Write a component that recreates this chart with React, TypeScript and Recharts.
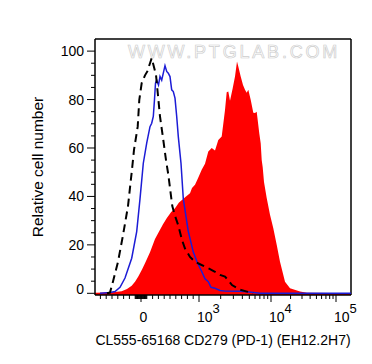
import React from 'react';
import { ComposedChart, Area, Line, XAxis, YAxis, ReferenceLine, Label } from 'recharts';

const FONT = '"Liberation Sans", Arial, Helvetica, sans-serif';

// Display channel (0..256 across the biexponential axis) and relative cell counts
const sampleChannel = [0, 13, 20, 26.7, 32, 36.7, 40, 43.3, 47, 50, 55, 60, 65, 68, 71.7, 76, 80, 84, 87.3, 91, 95, 97, 100, 103, 106.7, 110, 113.3, 116.7, 120, 123.3, 126.7, 128.3, 130, 131.7, 133.3, 135, 137.7, 140, 142, 143.3, 145.7, 148, 150, 151.7, 153.3, 155.7, 158.3, 160, 161.7, 164.3, 165.7, 166.7, 167.7, 169, 171.7, 175, 178.3, 181.7, 185, 190, 195, 205, 212, 256];
const sampleCount = [0.2, 0.3, 0.5, 0.9, 1.8, 3.1, 4.8, 6.9, 9.8, 12.4, 16.9, 22.4, 26.2, 28.5, 31, 33.5, 35.1, 37.5, 38.6, 40, 41.3, 43.5, 44.8, 47.5, 51, 53.5, 58.5, 60, 59, 63.3, 64.7, 70, 75.7, 83, 83.3, 79.5, 84.7, 89.5, 95.7, 93.6, 89.5, 86, 84, 82.8, 84, 79.9, 74.5, 74.4, 75, 66, 62, 55, 52, 46, 39.3, 32.4, 26.9, 20, 13, 4.8, 2.1, 0.7, 0.2, 0];

const isotypeChannel = [5, 15, 20, 25, 30, 36.7, 41.7, 45, 48.3, 51.7, 55, 56.7, 58.3, 59.5, 60.5, 61.7, 63.5, 65, 66.7, 68.3, 70, 71.7, 73.3, 75, 76.7, 78.3, 80, 81.7, 83.3, 86, 88.3, 93.3, 98.3, 102, 106.7, 110, 113.3, 116, 120, 125, 130, 145, 152, 165, 256];
const isotypeCount = [0, 0.3, 0.7, 2.5, 6.3, 14.5, 25.5, 39, 53.7, 62, 68.8, 70.2, 73, 80, 86.8, 88, 86, 89.5, 88, 90.9, 94, 91.6, 90.9, 89.5, 84, 83.3, 80.6, 73, 64.7, 53.7, 39, 25.5, 17, 13, 9, 6, 4.8, 2.5, 2.1, 1.2, 0.9, 0.8, 0.6, 0, 0];

const unstainedChannel = [12, 15, 18, 23, 28, 33, 37.3, 39, 42.7, 44.3, 46.7, 50, 52.3, 55, 56.7, 58, 61, 65, 68.3, 71, 73.3, 77.3, 80, 83.3, 87, 90, 95, 100, 105, 110, 115, 120, 125, 130, 134, 137, 145, 152, 158];
const unstainedCount = [0, 0.3, 4.9, 13, 24, 36, 52.3, 59.2, 68.8, 79.9, 86.8, 90, 91.6, 95, 97.1, 95, 90.2, 73, 63.3, 55, 49, 36, 32, 28, 22, 18.5, 15, 13, 12, 11, 10, 8.9, 7.6, 6.9, 5, 3.4, 1.5, 0.7, 0];

// Axis tick values (fluorescence intensity)
const xMajorValues = [0, 1000, 10000, 100000];
const xMajorExponents = ['', '3', '4', '5'];
const xMinorValues = [
  -700, -600, -500, -400, -300, -200, -100, -90, -80, -70, -60, -50, -40, -30, -20, -10,
  10, 20, 30, 40, 50, 60, 70, 80, 90, 100, 200, 300, 400, 500, 600, 700, 800, 900,
  2000, 3000, 4000, 5000, 6000, 7000, 8000, 9000,
  20000, 30000, 40000, 50000, 60000, 70000, 80000, 90000,
];
const yTickValues = [0, 5, 10, 15, 20, 25, 30, 35, 40, 45, 50, 55, 60, 65, 70, 75, 80, 85, 90, 95, 100];
const yMajorValues = [0, 20, 40, 60, 80, 100];

const xTitle = 'CL555-65168 CD279 (PD-1) (EH12.2H7)';
const yTitle = 'Relative cell number';
const watermark = 'WWW.PTGLAB.COM';

// biexponential-like display transform: value -> display channel
const ZERO_CH = 46;
const DECADE_CH: Record<number, number> = { 3: 104, 4: 176, 5: 241 };
function toChannel(v: number): number {
  if (Math.abs(v) <= 1000) return ZERO_CH + (v / 1000) * (DECADE_CH[3] - ZERO_CH);
  const l = Math.log10(v);
  if (l <= 4) return DECADE_CH[3] + (l - 3) * (DECADE_CH[4] - DECADE_CH[3]);
  return DECADE_CH[4] + (l - 4) * (DECADE_CH[5] - DECADE_CH[4]);
}

const X_MAX = 256;
const Y_MIN = -0.7;
const Y_MAX = 105;

const zip = (cs: number[], vs: number[]) => cs.map((c, i) => ({ ch: c, v: vs[i] }));
const sampleData = zip(sampleChannel, sampleCount);
const isotypeData = zip(isotypeChannel, isotypeCount);
const unstainedData = zip(unstainedChannel, unstainedCount);

type TickInfo = { major: boolean; exp: string };
const xTickInfo = new Map<number, TickInfo>();
xMajorValues.forEach((v, i) => xTickInfo.set(toChannel(v), { major: true, exp: xMajorExponents[i] }));
xMinorValues.forEach((v) => {
  const c = toChannel(v);
  if (c >= 0 && c <= X_MAX) xTickInfo.set(c, { major: false, exp: '' });
});
const xTicks = Array.from(xTickInfo.keys()).sort((a, b) => a - b);

const XTick = (props: any) => {
  const { x, y, payload } = props;
  const info = xTickInfo.get(payload.value);
  if (!info) return null;
  const len = info.major ? 7 : 4;
  return (
    <g>
      <line x1={x} x2={x} y1={y} y2={y + len} stroke="#000" strokeWidth={1} />
      {info.major && info.exp === '' && (
        <text x={x + 2.5} y={y + 27} textAnchor="middle" fontSize={14} fontFamily={FONT} fill="#000">0</text>
      )}
      {info.major && info.exp !== '' && (
        <text x={x - 2} y={y + 27} textAnchor="start" fontSize={14} fontFamily={FONT} fill="#000">
          10<tspan dy={-9} fontSize={13}>{info.exp}</tspan>
        </text>
      )}
    </g>
  );
};

const YTick = (props: any) => {
  const { x, y, payload } = props;
  const v = payload.value as number;
  const major = yMajorValues.includes(v);
  const len = major ? 8 : 4;
  return (
    <g>
      <line x1={x - len} x2={x} y1={y} y2={y} stroke="#000" strokeWidth={1} />
      {major && (
        <text x={x - 11} y={y + (v === 0 ? -4 : 0)} dy="0.36em" textAnchor="end" fontSize={14} fontFamily={FONT} fill="#000">
          {v}
        </text>
      )}
    </g>
  );
};

export default function App() {
  return (
    <div style={{ width: 364, height: 356 }}>
      <ComposedChart width={364} height={356} margin={{ top: 31, right: 21, bottom: 0, left: 0 }}>
        <XAxis
          type="number"
          dataKey="ch"
          domain={[0, X_MAX]}
          ticks={xTicks}
          interval={0}
          tickSize={0}
          tickMargin={0}
          tickLine={false}
          tick={<XTick />}
          axisLine={{ stroke: '#000', strokeWidth: 1.5 }}
          height={69}
          allowDataOverflow
        >
          <Label
            value={xTitle}
            position="insideBottom"
            offset={19}
            style={{ fontSize: 14, fontFamily: FONT, fill: '#000' }}
          />
        </XAxis>
        <YAxis
          type="number"
          domain={[Y_MIN, Y_MAX]}
          ticks={yTickValues}
          interval={0}
          tickSize={0}
          tickMargin={0}
          tickLine={false}
          tick={<YTick />}
          axisLine={{ stroke: '#000', strokeWidth: 1.5 }}
          width={87}
          allowDataOverflow
        >
          <Label
            content={() => (
              <text
                x={0}
                y={0}
                transform={`translate(35, 159) rotate(-90)`}
                textAnchor="middle"
                fontSize={15.5}
                fontFamily={FONT}
                fill="#000"
              >
                {yTitle}
              </text>
            )}
          />
        </YAxis>
        <ReferenceLine
          y={Y_MAX}
          stroke="#000"
          strokeWidth={1.5}
          label={() => (
            <text
              x={226}
              y={50}
              textAnchor="middle"
              fontSize={18}
              letterSpacing={2.8}
              fontFamily={FONT}
              fill="#ffffff"
              stroke="#cdcdcd"
              strokeWidth={0.7}
            >
              {watermark}
            </text>
          )}
        />
        <ReferenceLine x={X_MAX} stroke="#000" strokeWidth={1.5} />
        <Area
          data={sampleData}
          dataKey="v"
          type="linear"
          fill="#ff0000"
          fillOpacity={1}
          stroke="none"
          baseValue="dataMin"
          dot={false}
          activeDot={false}
          isAnimationActive={false}
        />
        <Line
          data={isotypeData}
          dataKey="v"
          type="linear"
          stroke="#1c1cd6"
          strokeWidth={1.5}
          dot={false}
          activeDot={false}
          isAnimationActive={false}
        />
        <Line
          data={unstainedData}
          dataKey="v"
          type="linear"
          stroke="#000"
          strokeWidth={2}
          strokeDasharray="8 5"
          dot={false}
          activeDot={false}
          isAnimationActive={false}
        />
      </ComposedChart>
    </div>
  );
}
